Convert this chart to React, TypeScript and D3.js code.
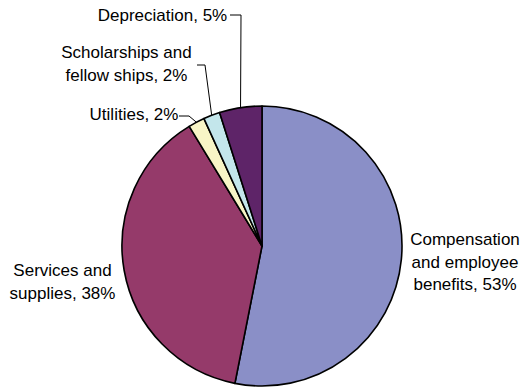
import React from "react";
import * as d3 from "d3";

const categories = [
  "Compensation and employee benefits",
  "Services and supplies",
  "Utilities",
  "Scholarships and fellow ships",
  "Depreciation",
];
const values = [53.1, 38.2, 1.9, 1.9, 4.9];
const percentLabels = ["53%", "38%", "2%", "2%", "5%"];
const colors = ["#8A8FC7", "#953A6A", "#F8F5C6", "#C3E6EB", "#5E2468"];
// label text lines per slice
const labelLines = [
  ["Compensation", "and employee", "benefits, 53%"],
  ["Services and", "supplies, 38%"],
  ["Utilities, 2%"],
  ["Scholarships and", "fellow ships, 2%"],
  ["Depreciation, 5%"],
];

const W = 523;
const H = 387;
const cx = 262;
const cy = 246;
const R = 140;
const FONT = "'Liberation Sans', Arial, sans-serif";
const FS = 17;
const LH = 22.7;

// label anchor (center x, first baseline y) and leader elbow
const labelPos = [
  { x: 465, y: 245, leader: null },
  { x: 62.5, y: 276, leader: null },
  { x: 134, y: 120, leader: { x0: 179, y0: 116, x1: 189, y1: 116 } },
  { x: 126.5, y: 58, leader: { x0: 197, y0: 65, x1: 205, y1: 65 } },
  { x: 162.5, y: 21, leader: { x0: 230, y0: 15, x1: 241, y1: 15 } },
];

export default function App() {
  const pie = d3
    .pie<number>()
    .sort(null)
    .value((d) => d)
    .startAngle(0)
    .endAngle(2 * Math.PI);
  const arcs = pie(values);
  const arc = d3.arc<d3.PieArcDatum<number>>().innerRadius(0).outerRadius(R);

  return (
    <svg
      width={W}
      height={H}
      style={{ position: "absolute", left: 0, top: 0, background: "#fff" }}
    >
      <g transform={`translate(${cx},${cy})`}>
        {arcs.map((a, i) => (
          <path
            key={categories[i]}
            d={arc(a) || ""}
            fill={colors[i]}
            stroke="#000"
            strokeWidth={1.6}
            strokeLinejoin="round"
          />
        ))}
      </g>
      {arcs.map((a, i) => {
        const lp = labelPos[i];
        if (!lp.leader) return null;
        const mid = (a.startAngle + a.endAngle) / 2;
        const ex = cx + R * Math.sin(mid);
        const ey = cy - R * Math.cos(mid);
        return (
          <polyline
            key={"l" + i}
            points={`${lp.leader.x0},${lp.leader.y0} ${lp.leader.x1},${lp.leader.y1} ${ex},${ey}`}
            fill="none"
            stroke="#000"
            strokeWidth={1}
          />
        );
      })}
      {labelLines.map((lines, i) => (
        <text
          key={"t" + i}
          x={labelPos[i].x}
          y={labelPos[i].y}
          textAnchor="middle"
          fontFamily={FONT}
          fontSize={FS}
          fill="#000"
        >
          {lines.map((ln, j) => (
            <tspan key={j} x={labelPos[i].x} y={labelPos[i].y + j * LH}>
              {ln}
            </tspan>
          ))}
        </text>
      ))}
    </svg>
  );
}
